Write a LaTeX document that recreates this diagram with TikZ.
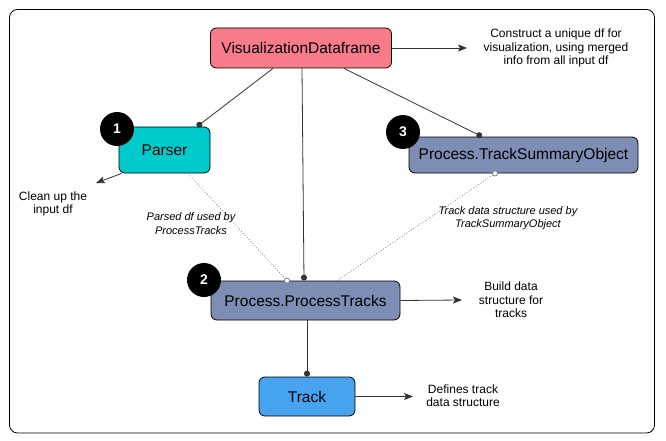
\documentclass[tikz,border=0pt]{standalone}
\usepackage{fontspec}
\setmainfont{Liberation Sans}
\usetikzlibrary{arrows.meta}

\definecolor{vizred}{HTML}{F77B8B}
\definecolor{parsercyan}{HTML}{00CBCC}
\definecolor{procblue}{HTML}{7D8DB4}
\definecolor{trackblue}{HTML}{46A3F0}
\definecolor{linegray}{HTML}{333333}

\begin{document}
\begin{tikzpicture}[
	x = 1pt,
	y = -1pt,
	>={Stealth[length=9pt,width=7pt,inset=2pt]},
	box/.style = {
		draw,
		line width = 0.8pt,
		rounded corners = 6pt,
		inner sep = 0pt,
		font = \fontsize{15.5}{18}\selectfont
	},
	badge/.style = {
		circle,
		fill = black,
		text = white,
		inner sep = 0pt,
		minimum size = 34pt,
		font = \bfseries\fontsize{14}{16}\selectfont
	},
	note/.style = {
		align = center,
		inner sep = 0pt,
		font = \fontsize{12}{13.4}\selectfont
	},
	usage/.style = {
		align = center,
		inner sep = 0pt,
		font = \itshape\fontsize{11}{13.3}\selectfont
	},
	link/.style = {
		linegray,
		line width = 0.8pt
	},
	uses/.style = {
		gray,
		line width = 0.8pt,
		dotted
	}
	]
	\useasboundingbox (0,0) rectangle (666,441);
	\draw[line width = 0.8pt, rounded corners = 8pt] (9.5,9.5) rectangle (654.5,433);

	% boxes
	\node[box, fill = vizred, minimum width = 181pt, minimum height = 40pt] (viz) at (301,48) {VisualizationDataframe};
	\node[box, fill = parsercyan, minimum width = 91pt, minimum height = 46pt] (parser) at (164.5,150) {Parser};
	\node[box, fill = procblue, minimum width = 229pt, minimum height = 36pt] (tso) at (523.5,155) {Process.TrackSummaryObject};
	\node[box, fill = procblue, minimum width = 189pt, minimum height = 39pt] (pt) at (305.5,300.5) {Process.ProcessTracks};
	\node[box, fill = trackblue, minimum width = 96pt, minimum height = 39pt] (track) at (307,396.5) {Track};

	% notes
	\node[note] (vizNote) at (556,48) {Construct a unique df for\\visualization, using merged\\info from all input df};
	\node[note] (parserNote) at (53,204) {Clean up the\\input df};
	\node[note] (ptNote) at (511,300) {Build data\\structure for\\tracks};
	\node[note] (trackNote) at (463,396) {Defines track\\data structure};
	\coordinate (vizTip) at (467,48);
	\coordinate (parserTip) at (96,183);
	\coordinate (ptTip) at (462,300);
	\coordinate (trackTip) at (413,396.5);

	% connectors
	\draw[link, -{Circle[length=6pt]}] ([xshift=-28pt]viz.south) -- ([xshift=32.5pt]parser.north);
	\draw[link, -{Circle[length=6pt]}] ([xshift=1pt]viz.south) -- ([xshift=-1.5pt]pt.north);
	\draw[link, -{Circle[length=6pt]}] ([xshift=43pt]viz.south) -- ([xshift=-41.5pt]tso.north);
	\draw[link, -{Circle[length=6pt]}] (pt.south -| track.north) -- (track.north);
	\draw[link, ->] (viz.east) -- (vizTip);
	\draw[link, ->] ([xshift=3pt]parser.south west) -- (parserTip);
	\draw[link, ->] (pt.east) -- (ptTip);
	\draw[link, ->] (track.east) -- (trackTip);

	% usage links
	\draw[uses, -{Circle[open,length=6pt,fill=white,line width=0.8pt,sep=-3pt]}] ([xshift=23.5pt]parser.south) -- ([xshift=-18.5pt]pt.north);
	\draw[uses, {Circle[open,length=6pt,fill=white,line width=0.8pt,sep=-3pt]}-] ([xshift=-28.5pt]tso.south) -- ([xshift=31.5pt]pt.north);
	\node[usage] (parsedLabel) at (191,223.5) {Parsed df used by\\ProcessTracks};
	\node[usage] (trackLabel) at (508,218.5) {Track data structure used by\\TrackSummaryObject};

	% badges
	\node[badge] (b1) at (117,129) {1};
	\node[badge] (b2) at (204,280) {2};
	\node[badge] (b3) at (403,132) {3};
\end{tikzpicture}
\end{document}
